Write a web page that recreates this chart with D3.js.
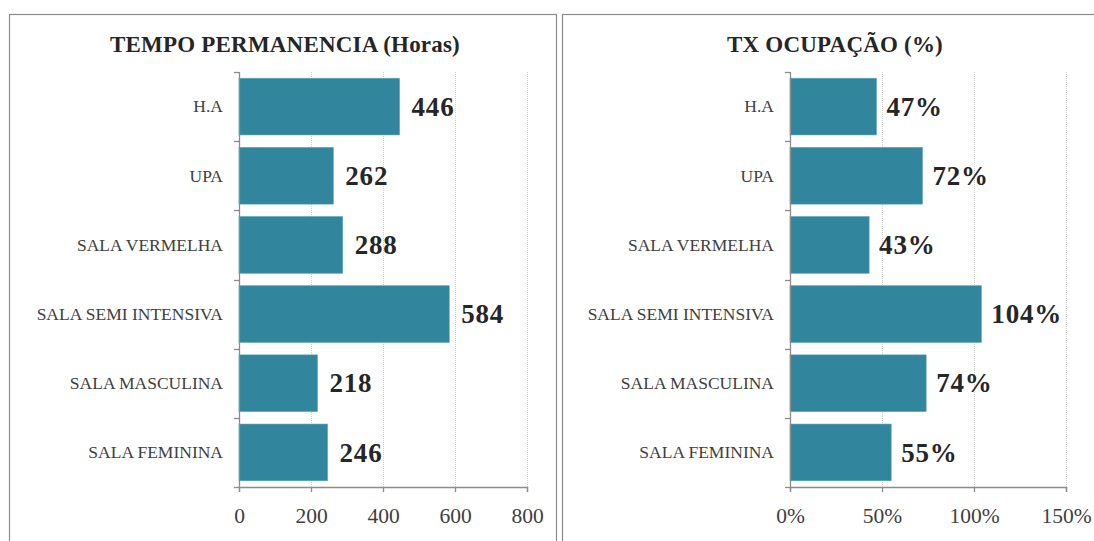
<!DOCTYPE html>
<html>
<head>
<meta charset="utf-8">
<script src="https://cdn.jsdelivr.net/npm/d3@7"></script>
<style>
  body { margin: 0; background: #fff; }
  svg { display: block; }
</style>
</head>
<body>
<svg id="vis" width="1094" height="541"></svg>
<script>
// data
var categories = ['H.A', 'UPA', 'SALA VERMELHA', 'SALA SEMI INTENSIVA', 'SALA MASCULINA', 'SALA FEMININA'];
var horas = [446, 262, 288, 584, 218, 246];
var ocupacao = [47, 72, 43, 104, 74, 55];
var horasTicks = [0, 200, 400, 600, 800];
var ocupacaoTicks = [0, 50, 100, 150];

var vis = d3.select('#vis');
var BAR = '#31859c';
var SERIF = '"Liberation Serif", "Times New Roman", serif';

function drawPanel(opts) {
    // panel frame
    vis.append('rect')
        .attr('x', opts.box[0] + 0.5).attr('y', opts.box[1] + 0.5)
        .attr('width', opts.box[2]).attr('height', opts.box[3])
        .attr('fill', '#fff').attr('stroke', '#8c8c8c').attr('stroke-width', 1.2);

    vis.append('text')
        .attr('x', opts.titleX).attr('y', 52)
        .attr('text-anchor', 'middle')
        .style('font-family', SERIF).style('font-weight', 'bold')
        .style('font-size', '23px').style('letter-spacing', '0.2px')
        .attr('fill', '#262626')
        .text(opts.title);

    var x = d3.scaleLinear().domain(opts.domain).range(opts.xRange);
    var y = d3.scaleBand().domain(categories).range([72, 487]).paddingInner(0.18).paddingOuter(0.09);

    var g = vis.append('g');

    // dotted gridlines
    g.selectAll('line.grid')
        .data(opts.ticks.slice(1))
        .enter().append('line')
        .attr('class', 'grid')
        .attr('x1', function(d){ return x(d) + 0.5; })
        .attr('x2', function(d){ return x(d) + 0.5; })
        .attr('y1', 72).attr('y2', 487)
        .attr('stroke', '#d0d0d0').attr('stroke-dasharray', '1,1');

    g.selectAll('rect.bar')
        .data(opts.values)
        .enter().append('rect')
        .attr('class', 'bar')
        .attr('x', x(0))
        .attr('y', function(d, i){ return y(categories[i]); })
        .attr('width', function(d){ return x(d) - x(0); })
        .attr('height', y.bandwidth())
        .attr('fill', BAR).attr('stroke', '#5aa3b8').attr('stroke-width', 0.6);

    g.selectAll('text.val')
        .data(opts.values)
        .enter().append('text')
        .attr('class', 'val')
        .attr('x', function(d){ return x(d) + opts.gap; })
        .attr('y', function(d, i){ return y(categories[i]) + y.bandwidth() / 2; })
        .attr('dy', '0.34em')
        .style('font-family', SERIF).style('font-weight', 'bold')
        .style('font-size', '27px').style('letter-spacing', '0.8px')
        .attr('fill', '#262626')
        .text(function(d){ return d + opts.suffix; });

    // category labels
    g.selectAll('text.cat')
        .data(categories)
        .enter().append('text')
        .attr('class', 'cat')
        .attr('x', x(0) - 16)
        .attr('y', function(d){ return y(d) + y.bandwidth() / 2; })
        .attr('dy', '0.33em')
        .attr('text-anchor', 'end')
        .style('font-family', SERIF).style('font-size', '17.5px')
        .attr('fill', '#404040')
        .text(function(d){ return d; });

    // y axis line with band ticks
    var axisY = vis.append('g');
    axisY.append('line')
        .attr('x1', x(0) + 0.5).attr('x2', x(0) + 0.5)
        .attr('y1', 72).attr('y2', 487)
        .attr('stroke', '#8c8c8c').attr('stroke-width', 1.3);
    var edges = d3.range(categories.length + 1).map(function(i){ return 72 + i * (487 - 72) / categories.length; });
    axisY.selectAll('line.tk')
        .data(edges)
        .enter().append('line')
        .attr('class', 'tk')
        .attr('x1', x(0) - 5).attr('x2', x(0))
        .attr('y1', function(d){ return Math.round(d) + 0.5; })
        .attr('y2', function(d){ return Math.round(d) + 0.5; })
        .attr('stroke', '#8c8c8c').attr('stroke-width', 1.3);

    // x axis
    var xAxis = d3.axisBottom(x)
        .tickValues(opts.ticks)
        .tickSize(5).tickPadding(16)
        .tickFormat(function(d){ return d + opts.suffix; });
    var ax = vis.append('g')
        .attr('transform', 'translate(0,487)')
        .call(xAxis);
    ax.select('.domain').attr('stroke', '#8c8c8c').attr('stroke-width', 1.3);
    ax.selectAll('.tick line').attr('stroke', '#8c8c8c').attr('stroke-width', 1.3);
    ax.selectAll('.tick text')
        .style('font-family', SERIF).style('font-size', '21.5px')
        .attr('fill', '#404040');
}

drawPanel({
    box: [9, 14, 547, 540],
    title: 'TEMPO PERMANENCIA (Horas)',
    titleX: 285,
    values: horas,
    domain: [0, 800],
    xRange: [239, 527],
    ticks: horasTicks,
    suffix: '',
    gap: 12
});

drawPanel({
    box: [562, 14, 540, 540],
    title: 'TX OCUPAÇÃO  (%)',
    titleX: 835,
    values: ocupacao,
    domain: [0, 150],
    xRange: [790, 1066],
    ticks: ocupacaoTicks,
    suffix: '%',
    gap: 10
});
</script>
</body>
</html>
